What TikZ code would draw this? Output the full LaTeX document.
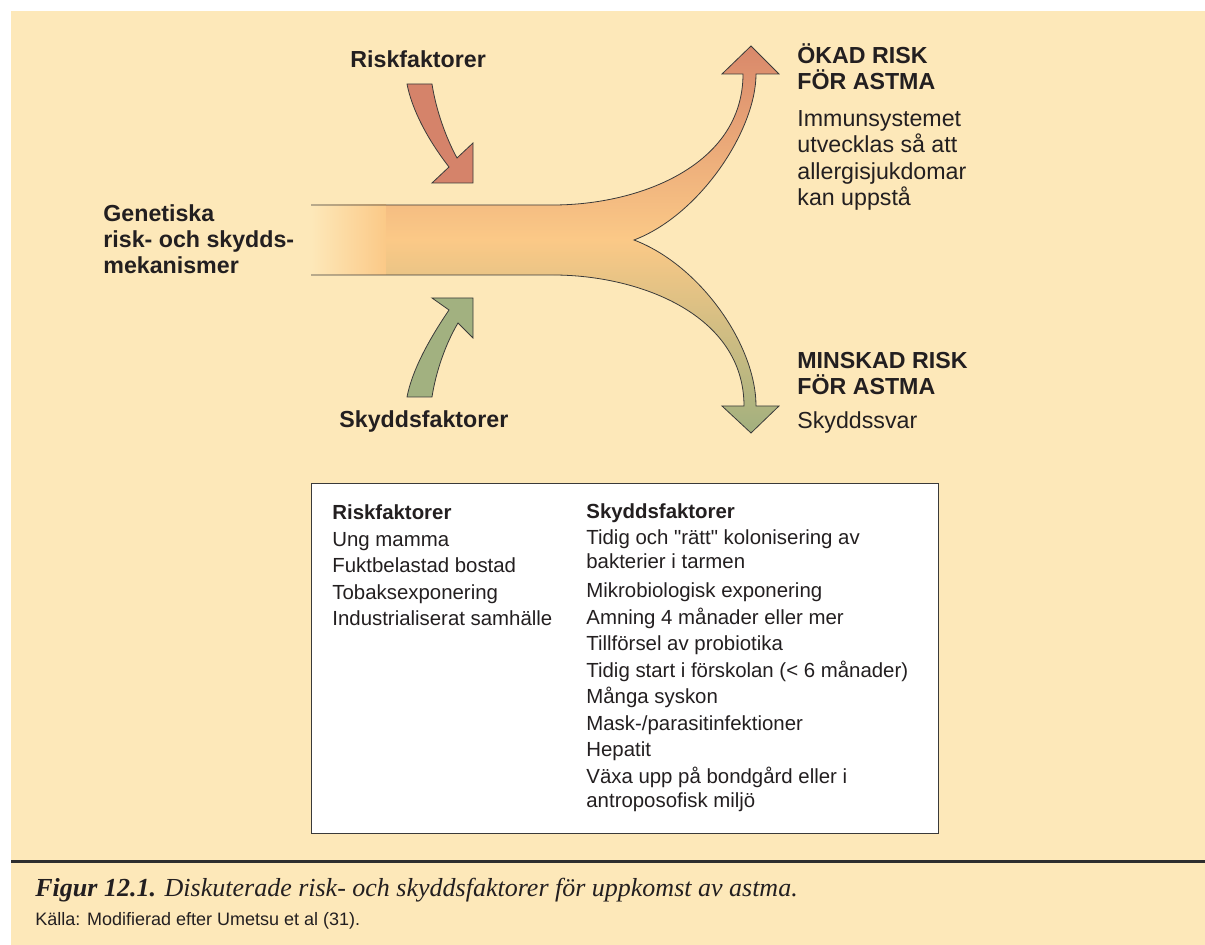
\documentclass[tikz,border=0pt]{standalone}
\usepackage{fontspec}
\setmainfont{Liberation Sans}
\newfontfamily\capserif{Liberation Serif}
\usetikzlibrary{arrows.meta,calc}

\definecolor{bgyellow}{HTML}{FDE8B9}
\definecolor{riskred}{HTML}{D5836A}
\definecolor{skyddgreen}{HTML}{A2B180}
\definecolor{bandorange}{HTML}{FBC987}
\definecolor{flowtop}{HTML}{D9886A}
\definecolor{flowbot}{HTML}{A2B07E}
\definecolor{edgegray}{HTML}{3A3A3A}
\definecolor{inkblack}{HTML}{231F20}

\begin{document}
\begin{tikzpicture}[x=0.5pt,y=-0.5pt,
    lbl/.style={anchor=base west, inner sep=0pt, align=left, text=inkblack,
                font=\fontsize{11.6}{13}\selectfont},
    lblbold/.style={lbl, font=\fontsize{11.6}{13}\selectfont\bfseries},
    boxtxt/.style={anchor=base west, inner sep=0pt, align=left, text=inkblack,
                font=\fontsize{10.2}{13.25}\selectfont},
    edge/.style={draw=edgegray, line width=0.4pt},
  ]

  % --------- knobs ----------
  \def\bandT{205}   % top of the band
  \def\bandB{275}   % bottom of the band
  \def\bandL{311}   % left end (fade starts)
  \def\bandF{386}   % fade ends
  \def\bandS{553}   % band starts to split
  % --------------------------

  % page and background
  \useasboundingbox (0,0) rectangle (1205,945);
  \fill[bgyellow] (11,11) rectangle (1205,945);

  % key points
  \coordinate (fork) at (634,240);
  \coordinate (uptip) at (751,46);
  \coordinate (downtip) at (751,433);

  % ============== Main flow =================
  \shade[left color=bgyellow, right color=bandorange]
    (\bandL,\bandT) rectangle (\bandF,\bandB);

  \shade[top color=flowtop, bottom color=flowbot, middle color=bandorange]
    (\bandF,\bandT) -- (\bandS,\bandT)
    .. controls (640,\bandT) and (743,165) .. (743,74)
    -- (722,74) -- (uptip) -- (779,74) -- (756,74)
    .. controls (756,130) and (700,215) .. (fork)
    .. controls (700,265) and (756,345) .. (756,406)
    -- (779,406) -- (downtip) -- (722,406) -- (744,406)
    .. controls (744,315) and (640,\bandB) .. (\bandS,\bandB)
    -- (\bandF,\bandB) -- cycle;

  % outline (open on the left)
  \draw[edge]
    (\bandL,\bandT) -- (\bandS,\bandT)
    .. controls (640,\bandT) and (743,165) .. (743,74)
    -- (722,74) -- (uptip) -- (779,74) -- (756,74)
    .. controls (756,130) and (700,215) .. (fork)
    .. controls (700,265) and (756,345) .. (756,406)
    -- (779,406) -- (downtip) -- (722,406) -- (744,406)
    .. controls (744,315) and (640,\bandB) .. (\bandS,\bandB)
    -- (\bandL,\bandB);

  % ============== Incoming arrows =================
  % risk (from above)
  \filldraw[edge, fill=riskred]
    (407,84) -- (432,84)
    .. controls (436,110) and (446,138) .. (457,158)
    -- (473,143) -- (473,183) -- (432,183) -- (449,167)
    .. controls (428,140) and (412,110) .. (407,84) -- cycle;

  % protection (from below)
  \filldraw[edge, fill=skyddgreen]
    (407,397) -- (432,397)
    .. controls (436,371) and (446,343) .. (458,323)
    -- (473,338) -- (473,298) -- (432,298) -- (449,310)
    .. controls (428,341) and (412,371) .. (407,397) -- cycle;

  % ============== Labels =================
  % (base = baseline of the last line)
  \node[lblbold] (riskin) at (350,68) {Riskfaktorer};
  \node[lblbold] (skyddin) at (339,428) {Skyddsfaktorer};
  \node[lblbold] (genetik) at (103,274) {Genetiska\\risk- och skydds-\\mekanismer};

  \node[lblbold] (okad) at (797,90) {ÖKAD RISK\\FÖR ASTMA};
  \node[lbl, font=\fontsize{11.6}{13.3}\selectfont] (immun) at (797,206)
    {Immunsystemet\\utvecklas så att\\allergisjukdomar\\kan uppstå};

  \node[lblbold] (minskad) at (797,395) {MINSKAD RISK\\FÖR ASTMA};
  \node[lbl] (svar) at (797,429) {Skyddssvar};

  % ============== Factor box =================
  \draw[fill=white, draw=edgegray, line width=0.5pt] (311,484) rectangle (938,834);

  \node[boxtxt] (risklist) at (332,626)
    {\textbf{Riskfaktorer}\\
     Ung mamma\\
     Fuktbelastad bostad\\
     Tobaksexponering\\
     Industrialiserat samhälle};

  \node[boxtxt] (skyddlist) at (586,808)
    {\textbf{Skyddsfaktorer}\\
     Tidig och \textquotedbl rätt\textquotedbl{} kolonisering av\\[-1.5pt]
     bakterier i tarmen\\[1.5pt]
     Mikrobiologisk exponering\\
     Amning 4 månader eller mer\\
     Tillförsel av probiotika\\
     Tidig start i förskolan (< 6 månader)\\
     Många syskon\\
     Mask-/parasitinfektioner\\
     Hepatit\\
     Växa upp på bondgård eller i\\[-1pt]
     antroposofisk miljö};

  % ============== Caption =================
  \draw[edgegray!80!black, line width=1.5pt] (11,862) -- (1205,862);

  \node[anchor=base west, inner sep=0pt, text=inkblack] (figcap) at (35,896)
    {\capserif\fontsize{13}{15}\selectfont\bfseries\itshape Figur 12.1.
     \mdseries Diskuterade risk- och skyddsfaktorer för uppkomst av astma.};
  \node[anchor=base west, inner sep=0pt, text=inkblack,
        font=\fontsize{9}{11}\selectfont] (kalla) at (35,925)
    {Källa: Modifierad efter Umetsu et al (31).};

\end{tikzpicture}
\end{document}
